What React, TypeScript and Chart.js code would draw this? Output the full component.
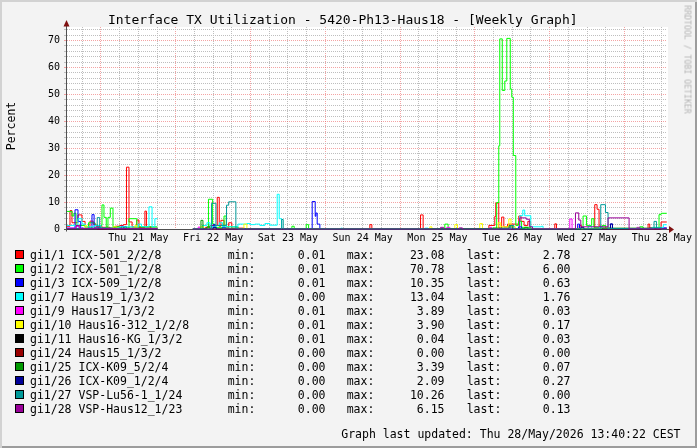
import React, { useEffect, useRef } from 'react';
import { Chart, registerables } from 'chart.js';

Chart.register(...registerables);

const FONT = '"DejaVu Sans Mono", monospace';

// x values: hours since Wed 20 May 2026 00:00
const X_MIN = 13.1;
const X_MAX = 205.67;
const dayLabels = ['Thu 21 May', 'Fri 22 May', 'Sat 23 May', 'Sun 24 May', 'Mon 25 May', 'Tue 26 May', 'Wed 27 May', 'Thu 28 May'];

const names = [
  'gi1/1 ICX-501_2/2/8',
  'gi1/2 ICX-501_1/2/8',
  'gi1/3 ICX-509_1/2/8',
  'gi1/7 Haus19_1/3/2',
  'gi1/9 Haus17_1/3/2',
  'gi1/10 Haus16-312_1/2/8',
  'gi1/11 Haus16-KG_1/3/2',
  'gi1/24 Haus15_1/3/2',
  'gi1/25 ICX-K09_5/2/4',
  'gi1/26 ICX-K09_1/2/4',
  'gi1/27 VSP-Lu56-1_1/24',
  'gi1/28 VSP-Haus12_1/23',
];
const colors = ['#FF0000', '#00FF00', '#0000FF', '#00FFFF', '#FF00FF', '#FFFF00', '#000000', '#990000', '#009900', '#000099', '#009999', '#990099'];
const mins = ['0.01', '0.01', '0.01', '0.00', '0.01', '0.01', '0.01', '0.00', '0.00', '0.00', '0.00', '0.00'];
const maxs = ['23.08', '70.78', '10.35', '13.04', '3.89', '3.90', '0.04', '0.00', '3.39', '2.09', '10.26', '6.15'];
const lasts = ['2.78', '6.00', '0.63', '1.76', '0.03', '0.17', '0.03', '0.00', '0.07', '0.27', '0.00', '0.13'];

type P = [number, number | null];

const gi1_1: P[] = [
  [13.1, 1.2], [14.06, 7.0], [14.7, 2.5], [16.63, 5.4], [17.9, 3.0], [18.9, 1.0], [20.48, 3.1], [21.5, 2.0], [22.4, 1.2], [24.3, 0.8], [26.9, 0.5], [28.5, 1.2], [30.1, 1.5], [31.2, 1.8], [32.19, 23.08], [32.99, 2.8], [34.0, 1.0], [35.5, 3.5], [36.2, 0.8], [38.1, 6.8], [38.6, 1.0], [40.0, 0.4], [42.1, null],
  [53.5, 0.3], [57.5, 0.8], [58.97, 1.5], [61.32, 11.9], [61.96, 1.2], [62.5, 3.4], [63.5, 0.6], [65.0, 2.5], [66.0, 0.5], [70, 0.2], [80, 0.3], [96, 0.1], [110.3, 1.8], [110.94, 0.1], [126.57, 5.4], [127.4, 0.2],
  [148.5, 1.5], [150.4, 4.8], [150.72, 9.8], [151.68, 0.5], [152.6, 4.6], [153.3, 1.0], [154.5, 2.0], [158.1, 5.0], [158.8, 3.0], [159.8, 1.5], [161.0, 3.0], [161.9, 0.3],
  [169.65, 2.1], [170.2, 0.2], [177.5, 1.5], [178.2, 0.3], [182.48, 9.2], [183.22, 7.5], [183.86, 1.2], [185.0, 0.5], [187.5, 0.3], [199.59, 2.0], [200.13, 0.5], [203.76, 2.78], [205.6, 2.78],
];
const gi1_2: P[] = [
  [13.1, 6.7], [14.7, 5.0], [15.3, 6.0], [16.0, 1.5], [19.0, 0.8], [20.0, 2.5], [22.08, 1.5], [24.33, 9.1], [24.97, 4.5], [25.7, 1.0], [26.25, 4.5], [27.0, 7.9], [27.86, 1.0], [30, 0.5], [33.0, 4.0], [35.5, 1.0], [42.1, null],
  [53.5, 0.3], [58.5, 11.2], [59.84, 2.0], [60.5, 0.8], [63.5, 5.0], [64.2, 1.0], [68, 0.2], [85.28, 1.2], [86.02, 0.1], [89.87, 1.8], [90.64, 0.1], [134.36, 2.0], [135.42, 0.2],
  [148.5, 0.5], [151.0, 10.0], [151.68, 31.0], [152.0, 70.6], [152.8, 51.5], [153.61, 55.0], [154.25, 70.78], [155.37, 52.0], [155.85, 49.0], [156.34, 27.4], [157.14, 1.5], [158, 3.0], [159, 0.8], [162, 0.3],
  [178.73, 5.0], [179.82, 1.5], [181.5, 4.0], [182.2, 0.8], [184.9, 1.5], [186, 0.3], [196.9, 1.0], [198, 0.2], [203.11, 5.5], [203.76, 6.0], [205.6, 6.0],
];
const gi1_3: P[] = [
  [13.1, 0.5], [15.67, 7.3], [16.63, 3.0], [17.5, 0.5], [21.12, 5.5], [21.8, 0.8], [24.0, 0.3], [30.5, 1.2], [31.2, 0.3], [42.1, null],
  [53.5, 0.1], [60.0, 1.8], [60.6, 0.3], [63, 0.8], [64, 0.2], [91.79, 10.35], [92.76, 4.9], [93.0, 6.1], [93.4, 2.0], [94.26, 0.1],
  [158, 1.0], [159, 0.2], [177.0, 2.0], [177.6, 0.2], [187.52, 2.0], [188.16, 0.3], [200, 0.5], [204.5, 0.63], [205.6, 0.63],
];
const gi1_7: P[] = [
  [13.1, 1.5], [15.67, 1.0], [16.63, 4.0], [17.9, 2.0], [19, 1.0], [22, 1.5], [24, 0.5], [30, 1.0], [36, 2.0], [37.0, 1.0], [39.4, 8.4], [40.4, 1.0], [41.3, 4.0], [42.1, null],
  [53.5, 0.2], [56.5, 1.5], [58.0, 2.5], [59, 1.0], [61, 1.5], [62, 2.5], [63, 1.0], [67.96, 2.0], [70.84, 2.2], [72, 1.8], [73.41, 2.0], [75, 1.5], [76.62, 2.2], [78.22, 1.6], [80.56, 13.04], [81.21, 4.0], [81.98, 0.2],
  [101, 0.5], [101.5, 0.1], [128, 0.5], [129, 0.1], [158.42, 5.1], [159.39, 7.2], [160.0, 5.1], [161.95, 1.0], [165.39, 1.2], [165.9, 0.1],
  [180.5, 1.2], [181.5, 0.3], [184, 1.0], [185, 0.2], [201, 0.8], [204.5, 1.76], [205.6, 1.76],
];
const gi1_9: P[] = [
  [13.1, 0.5], [16, 1.2], [17, 0.3], [22, 0.8], [23, 0.2], [42.1, null],
  [53.5, 0.1], [55.2, 0.9], [55.77, 0.1], [135, 0.8], [136, 0.1], [148.8, 0.8], [149.4, 0.1], [155, 1.0], [156, 0.2], [174.47, 3.89], [175.2, 0.2], [196, 0.8], [197, 0.03], [205.6, 0.03],
];
const gi1_10: P[] = [
  [13.1, 0.3], [18.87, 1.5], [19.5, 0.3], [28, 1.0], [29, 0.3], [34.9, 1.5], [35.5, 0.3], [42.1, null],
  [53.5, 0.1], [56, 1.0], [57, 0.2], [69.88, 2.0], [70.84, 0.1], [129.55, 1.0], [130.2, 0.1], [137.57, 1.8], [138.43, 0.1], [145.59, 2.2], [146.45, 0.1],
  [151.5, 2.5], [152.3, 1.0], [154.9, 3.9], [155.6, 1.0], [157, 0.3], [205, 0.17], [205.6, 0.17],
];
const gi1_11: P[] = [[13.1, 0.02], [42.1, null], [53.5, 0.02], [150, 0.04], [151, 0.02], [205.6, 0.03]];
const gi1_24: P[] = [[13.1, 0], [42.1, null], [53.5, 0], [205.6, 0]];
const gi1_25: P[] = [
  [13.1, 0.3], [20, 0.5], [42.1, null],
  [53.5, 0.1], [56.09, 3.39], [56.73, 0.3], [58, 1.0], [59, 0.2], [130, 0.3], [150, 0.5], [155, 1.5], [156, 0.3], [160, 0.8], [161, 0.1], [185, 0.5], [204, 0.07], [205.6, 0.07],
];
const gi1_26: P[] = [
  [13.1, 0.2], [42.1, null],
  [53.5, 0.1], [60, 0.8], [61, 0.1], [178, 0.8], [179, 0.1], [187.52, 2.09], [188.16, 0.2], [203, 0.27], [205.6, 0.27],
];
const gi1_27: P[] = [
  [13.1, 0.2], [22.8, 4.4], [23.6, 0.5], [26, 0.3], [31.5, 1.0], [32.2, 0.2], [42.1, null],
  [53.5, 0.1], [59.5, 9.7], [60.9, 1.5], [64.3, 9.0], [65.0, 10.26], [67.3, 0.5], [68, 0.1], [82, 3.7], [82.5, 0.1],
  [155.5, 1.5], [156.5, 0.2], [184.41, 9.2], [185.92, 6.3], [186.75, 0.3], [201.51, 3.0], [202.28, 0.5], [204, 0.0], [205.6, 0.0],
];
const gi1_28: P[] = [
  [13.1, 0.3], [16, 1.5], [17, 0.3], [42.1, null],
  [53.5, 0.1], [133, 0.8], [134, 0.1], [139, 0.6], [140, 0.1], [158.4, 4.3], [160.5, 3.8], [161.5, 1.0], [162.5, 0.2],
  [176.29, 6.15], [177.35, 3.5], [178.0, 1.0], [186.75, 4.3], [193.5, 0.2], [205.6, 0.13],
];

const series: P[][] = [gi1_1, gi1_2, gi1_3, gi1_7, gi1_9, gi1_10, gi1_11, gi1_24, gi1_25, gi1_26, gi1_27, gi1_28];

function toPoints(s: P[]) {
  const out: { x: number; y: number | null }[] = [];
  let prev: number | null = null;
  for (const [x, y] of s) {
    if (y === null && prev !== null) out.push({ x, y: prev });
    out.push({ x, y });
    prev = y;
  }
  return out;
}

const xTickValues: number[] = [];
for (let h = 18; h <= 204; h += 6) xTickValues.push(h);
const yTickValues: number[] = [];
for (let v = 0; v <= 74; v += 2) yTickValues.push(v);

const MAJOR = 'rgba(235, 90, 90, 0.55)';
const MINOR = '#BEBEBE';

const bgPlugin = {
  id: 'plotBg',
  beforeDraw(chart: any) {
    const { ctx, chartArea } = chart;
    ctx.save();
    ctx.fillStyle = '#FFFFFF';
    ctx.fillRect(chartArea.left, chartArea.top, chartArea.right - chartArea.left + 1, chartArea.bottom - chartArea.top);
    ctx.restore();
  },
};

const axisPlugin = {
  id: 'rrdAxes',
  beforeDatasetsDraw(chart: any) {
    const { ctx, chartArea } = chart;
    const { left, right, top, bottom } = chartArea;
    ctx.save();
    ctx.strokeStyle = '#505050';
    ctx.lineWidth = 1;
    ctx.beginPath();
    ctx.moveTo(left - 0.5, bottom + 2);
    ctx.lineTo(left - 0.5, top - 1);
    ctx.moveTo(left - 3, bottom);
    ctx.lineTo(right + 3, bottom);
    ctx.stroke();
    ctx.fillStyle = '#7F1010';
    ctx.beginPath();
    ctx.moveTo(left - 0.5, top - 7);
    ctx.lineTo(left - 3.5, top - 0.5);
    ctx.lineTo(left + 2.5, top - 0.5);
    ctx.closePath();
    ctx.fill();
    ctx.beginPath();
    ctx.moveTo(right + 7, bottom);
    ctx.lineTo(right + 2, bottom - 3.5);
    ctx.lineTo(right + 2, bottom + 3.5);
    ctx.closePath();
    ctx.fill();
    ctx.restore();
  },
};

const ROW0 = 247.5;
const ROWH = 14;

export default function App() {
  const ref = useRef<HTMLCanvasElement>(null);

  useEffect(() => {
    const canvas = ref.current;
    if (!canvas) return;
    const chart = new Chart(canvas, {
      type: 'line',
      data: {
        datasets: series.map((s, i) => ({
          label: names[i],
          data: toPoints(s),
          borderColor: colors[i],
          backgroundColor: colors[i],
          borderWidth: 1,
          pointRadius: 0,
          pointHoverRadius: 0,
          stepped: 'before' as const,
          spanGaps: false,
          fill: false,
          order: series.length - i,
        })),
      },
      options: {
        responsive: false,
        animation: false,
        events: [],
        devicePixelRatio: 1,
        layout: { padding: { left: 0, top: 27, right: 30, bottom: 0 } },
        plugins: {
          legend: { display: false },
          title: { display: false },
          tooltip: { enabled: false },
        },
        scales: {
          x: {
            type: 'linear',
            min: X_MIN,
            max: X_MAX,
            bounds: 'data',
            afterBuildTicks: (sc: any) => {
              sc.ticks = xTickValues.map((v) => ({ value: v }));
            },
            afterFit: (sc: any) => {
              sc.height = 218.5;
              sc.paddingLeft = 0;
              sc.paddingRight = 0;
            },
            grid: {
              color: (c: any) => (c.tick && c.tick.value % 24 === 0 ? MAJOR : MINOR),
              lineWidth: 1,
              drawTicks: false,
            },
            border: { display: false, dash: [1, 1] },
            ticks: {
              autoSkip: false,
              maxRotation: 0,
              minRotation: 0,
              padding: 3,
              color: '#000',
              font: { family: FONT, size: 10 },
              callback: (v: any) => {
                const n = Number(v);
                if ((n - 12) % 24 === 0) return dayLabels[(n - 36) / 24] ?? '';
                return '';
              },
            },
          },
          y: {
            type: 'linear',
            min: 0,
            max: 75,
            bounds: 'data',
            afterBuildTicks: (sc: any) => {
              sc.ticks = yTickValues.map((v) => ({ value: v }));
            },
            afterFit: (sc: any) => {
              sc.width = 67;
              sc.paddingTop = 0;
              sc.paddingBottom = 0;
            },
            grid: {
              color: (c: any) => (c.tick && c.tick.value % 10 === 0 ? MAJOR : MINOR),
              lineWidth: 1,
              drawTicks: true,
              tickLength: 3,
            },
            border: { display: false, dash: [1, 1] },
            ticks: {
              autoSkip: false,
              padding: 4,
              color: '#000',
              font: { family: FONT, size: 10 },
              callback: (v: any) => (Number(v) % 10 === 0 ? String(v) : ''),
            },
          },
        },
      } as any,
      plugins: [bgPlugin, axisPlugin],
    });
    return () => chart.destroy();
  }, []);

  const txt: React.CSSProperties = {
    position: 'absolute',
    font: `11.5px ${FONT}`,
    lineHeight: '14px',
    whiteSpace: 'pre',
    color: '#000',
  };

  return (
    <div
      style={{
        position: 'absolute',
        left: 0,
        top: 0,
        width: 697,
        height: 448,
        overflow: 'hidden',
        background: '#F3F3F3',
        boxShadow: 'inset 2px 2px 0 #D2D2D2, inset -2px -2px 0 #9C9C9C',
      }}
    >
      <canvas ref={ref} width={697} height={448} style={{ position: 'absolute', left: 0, top: 0, width: 697, height: 448 }} />
      <div style={{ position: 'absolute', left: 108, top: 11.5, font: `13px ${FONT}`, lineHeight: '16px', whiteSpace: 'pre', color: '#000' }}>
        Interface TX Utilization - 5420-Ph13-Haus18 - [Weekly Graph]
      </div>
      <div
        style={{
          position: 'absolute',
          left: 10.5 - 40,
          top: 125.5 - 6,
          width: 80,
          height: 12,
          textAlign: 'center',
          font: `11.5px ${FONT}`,
          lineHeight: '12px',
          whiteSpace: 'pre',
          color: '#000',
          transform: 'rotate(-90deg)',
        }}
      >
        Percent
      </div>
      <div
        style={{
          position: 'absolute',
          left: 686.8 - 60,
          top: 59.5 - 4.5,
          width: 120,
          height: 9,
          textAlign: 'center',
          font: `8.2px ${FONT}`,
          lineHeight: '9px',
          whiteSpace: 'pre',
          color: '#B4B4B4',
          transform: 'rotate(90deg)',
        }}
      >
        RRDTOOL / TOBI OETIKER
      </div>
      {names.map((n, i) => (
        <React.Fragment key={n}>
          <div
            style={{
              position: 'absolute',
              left: 15,
              top: 250 + i * ROWH,
              width: 9,
              height: 9,
              boxSizing: 'border-box',
              border: '1px solid #000',
              background: colors[i],
            }}
          />
          <div style={{ ...txt, left: 30, top: ROW0 + i * ROWH }}>{n}</div>
          <div style={{ ...txt, left: 227.7, top: ROW0 + i * ROWH }}>min:</div>
          <div style={{ ...txt, right: 697 - 325.5, top: ROW0 + i * ROWH }}>{mins[i]}</div>
          <div style={{ ...txt, left: 346.7, top: ROW0 + i * ROWH }}>max:</div>
          <div style={{ ...txt, right: 697 - 444.5, top: ROW0 + i * ROWH }}>{maxs[i]}</div>
          <div style={{ ...txt, left: 466.7, top: ROW0 + i * ROWH }}>last:</div>
          <div style={{ ...txt, right: 697 - 570.5, top: ROW0 + i * ROWH }}>{lasts[i]}</div>
        </React.Fragment>
      ))}
      <div style={{ ...txt, right: 697 - 680.5, top: 427.3 }}>Graph last updated: Thu 28/May/2026 13:40:22 CEST</div>
    </div>
  );
}
